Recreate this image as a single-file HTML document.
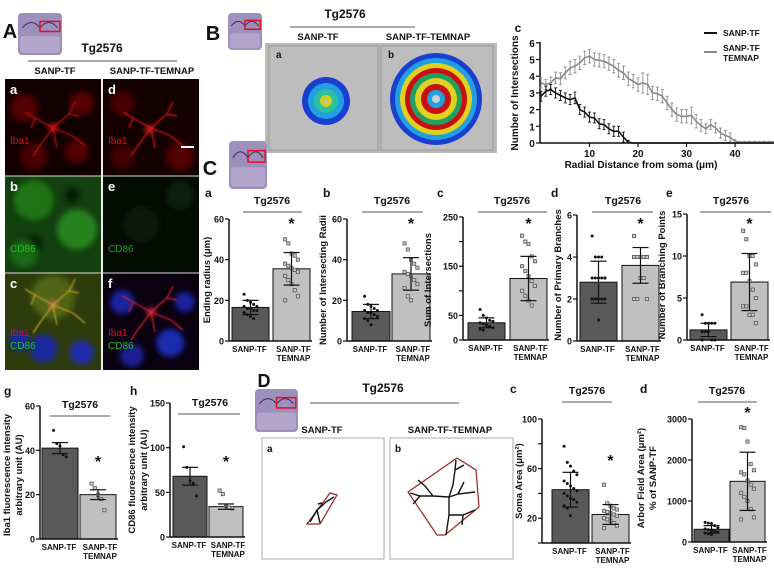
<!DOCTYPE html>
<html><head><meta charset="utf-8">
<style>
html,body{margin:0;padding:0;background:#fff;}
svg{display:block;font-family:"Liberation Sans",Arial,sans-serif;}
.t{font-weight:bold;fill:#111;}
</style></head>
<body>
<svg id="fig" width="774" height="568" viewBox="0 0 774 568" xmlns="http://www.w3.org/2000/svg">
<defs>
<filter id="bl" x="-50%" y="-50%" width="200%" height="200%"><feGaussianBlur stdDeviation="3"/></filter>
<filter id="bl2" x="-50%" y="-50%" width="200%" height="200%"><feGaussianBlur stdDeviation="0.8"/></filter>
<clipPath id="cpA"><rect x="5" y="79" width="194" height="291"/></clipPath>
</defs>
<g id="static"></g>
<g id="charts"></g>
</svg>
<script>
// ---------- DATA ----------
const groupLabels = ["SANP-TF", "SANP-TF", "TEMNAP"];
// Sholl line chart
const shollX = [0,1,2,3,4,5,6,7,8,9,10,11,12,13,14,15,16,17,18,19,20,21,22,23,24,25,26,27,28,29,30,31,32,33,34,35,36,37,38,39,40,41,42,43,44,45,46,47,48];
const shollTF = [2.8,3.1,3.2,3.0,2.85,2.7,2.6,2.7,2.0,1.85,1.55,1.5,1.15,1.1,0.85,0.7,0.7,0.35,0.05,0,0,0,0,0,0,0,0,0,0,0,0,0,0,0,0,0,0,0,0,0,0,0,0,0,0,0,0,0,0];
const shollTEM = [3.6,3.5,3.6,3.9,3.85,4.2,4.5,4.6,4.8,5.1,5.2,5.0,4.95,4.9,4.75,4.6,4.35,4.2,3.85,3.7,3.5,3.6,3.5,3.0,2.95,2.8,2.4,2.0,1.7,1.6,1.6,1.65,1.3,1.05,0.85,1.1,0.9,0.6,0.45,0.35,0.1,0.05,0.05,0.05,0.05,0.05,0.05,0.05,0.05];
const shollTFerr = [0.3,0.3,0.3,0.3,0.3,0.3,0.3,0.35,0.3,0.3,0.3,0.3,0.3,0.3,0.3,0.3,0.3,0.3,0.1,0,0,0,0,0,0,0,0,0,0,0,0,0,0,0,0,0,0,0,0,0,0,0,0,0,0,0,0,0,0];
const shollTEMerr = [0.3,0.3,0.35,0.35,0.35,0.35,0.4,0.4,0.4,0.4,0.4,0.4,0.4,0.4,0.4,0.4,0.4,0.4,0.4,0.4,0.4,0.6,0.6,0.4,0.4,0.4,0.4,0.4,0.4,0.4,0.4,0.5,0.4,0.35,0.3,0.3,0.3,0.3,0.3,0.25,0.1,0.05,0.05,0.05,0.05,0.05,0.05,0.05,0.05];
const shollXTicks = [10,20,30,40];
const shollYTicks = [0,1,2,3,4,5,6];
// C-a ending radius
const endMean = [16.5, 35.5], endSD = [3.5, 8];
const endPts1 = [23,20,19,18,17,17,16,16,15,15,14,13,12,11];
const endPts2 = [50,48,43,42,40,38,37,36,35,34,32,30,28,25,22,20];
const endTicks = [0,20,40,60];
// C-b intersecting radii
const radMean = [14.5, 33], radSD = [3.5, 8];
const radPts1 = [22,18,17,16,15,15,14,14,13,12,11,10,8];
const radPts2 = [48,45,40,38,36,34,33,32,30,28,26,22,20];
const radTicks = [0,20,40,60];
// C-c sum of intersections
const sumMean = [35, 125], sumSD = [10, 45];
const sumPts1 = [62,50,45,40,38,35,33,30,28,25,22,20];
const sumPts2 = [212,200,195,170,160,150,140,130,120,110,100,90,80,70];
const sumTicks = [0,50,100,150,200,250];
const sumTickLabels = ["0","50","","150","","250"];
// C-d primary branches
const priMean = [2.8, 3.6], priSD = [1, 0.85];
const priPts1 = [5,4,4,4,3,3,3,3,3,3,2,2,2,2,2,2,2,1];
const priPts2 = [5,4,4,4,4,4,4,4,4,4,4,4,3,3,2,2,2];
const priTicks = [0,2,4,6];
// C-e branching points
const brMean = [1.2, 6.9], brSD = [0.8, 3.4];
const brPts1 = [3,2,2,2,2,1,1,1,0,0,0];
const brPts2 = [13,12,10,10,9,8,8,7,6,5,4,4,3,3,2];
const brTicks = [0,5,10,15];
// g Iba1
const ibaMean = [41, 20], ibaErr = [2.5, 2.2];
const ibaPts1 = [49,43,42,38,37];
const ibaPts2 = [25,23,20,18,13];
const ibaTicks = [0,20,40,60];
// h CD86
const cdMean = [68, 34], cdErr = [10, 3];
const cdPts1 = [101,78,63,60,46];
const cdPts2 = [52,48,35,33,32];
const cdTicks = [0,50,100,150];
// D-c soma area
const somaMean = [43, 23], somaSD = [14, 8];
const somaPts1 = [78,65,62,58,55,50,48,46,44,42,40,38,36,35,33,30,28,22];
const somaPts2 = [47,32,30,28,27,26,25,24,23,22,20,19,18,16,14,12];
const somaTicks = [0,20,40,60,80,100];
const somaTickLabels = ["","20","","60","","100"];
// D-d arbor field area
const arbMean = [310, 1480], arbSD = [90, 710];
const arbPts1 = [480,460,450,400,350,320,300,280,260,240,220,200,180];
const arbPts2 = [2800,2780,2450,1900,1750,1700,1650,1500,1400,1300,1200,1100,1000,800,600,550];
const arbTicks = [0,1000,2000,3000];

// ---------- HELPERS ----------
const NS = "http://www.w3.org/2000/svg";
function mk(parent, tag, attrs, text){
  const e = document.createElementNS(NS, tag);
  for (const k in attrs) e.setAttribute(k, attrs[k]);
  if (text !== undefined) e.textContent = text;
  parent.appendChild(e);
  return e;
}
const S = document.getElementById("static");
const C = document.getElementById("charts");

function txt(p, x, y, s, size, name, extra){
  const a = {x:x, y:y, "font-size":size, class:"t", "text-anchor":"middle"};
  if (extra) for (const k in extra) a[k] = extra[k];
  const e = mk(p, "text", a, s);
  
  
  return e;
}
function line(p, x1, y1, x2, y2, col, w){
  return mk(p, "line", {x1:x1,y1:y1,x2:x2,y2:y2,stroke:col,"stroke-width":w});
}
function brain(p, x, y, w, h, name){
  const g = mk(p, "g", {});
  
  
  mk(g, "rect", {x:x, y:y, width:w, height:h, rx:4, fill:"#9f8fbd"});
  mk(g, "rect", {x:x+2, y:y+h*0.55, width:w-4, height:h*0.4, rx:3, fill:"#b3a6cc"});
  mk(g, "path", {d:`M${x+w*0.1} ${y+h*0.35} Q${x+w*0.3} ${y+h*0.1} ${x+w*0.5} ${y+h*0.35} Q${x+w*0.7} ${y+h*0.1} ${x+w*0.9} ${y+h*0.35}`, stroke:"#3a2d68", fill:"none", "stroke-width":1});
  mk(g, "rect", {x:x+w*0.5, y:y+h*0.2, width:w*0.45, height:h*0.24, fill:"none", stroke:"#e01020", "stroke-width":1.5});
}

// ---------- STATIC PANELS ----------
// Panel A
txt(S, 10, 38, "A", 20, "panel-a-label");
brain(S, 18, 13, 44, 42, "panel-a-brain-thumbnail");
txt(S, 102, 52, "Tg2576", 12, "panel-a-title");
line(S, 28, 61, 177, 61, "#555", 1);
txt(S, 55, 74, "SANP-TF", 9.5, "panel-a-col1-header");
txt(S, 152, 74, "SANP-TF-TEMNAP", 9.5, "panel-a-col2-header");
const imgs = mk(S, "g", {"clip-path":"url(#cpA)"});


const cells = [
  {x:5,y:79,bg:"#120000",blobs:[["#5a0000",20,30,14],["#600000",80,25,12],["#500000",30,80,14],["#5a0000",75,75,12],["#ff2020",50,50,4]],br:"#d01010",lab:"a"},
  {x:103,y:79,bg:"#150000",blobs:[["#500000",20,25,12],["#5a0000",80,80,14],["#4a0000",20,80,12],["#ff3030",48,52,4]],br:"#e01818",lab:"d"},
  {x:5,y:176,bg:"#12400e",blobs:[["#207a18",30,25,20],["#2a8a20",75,55,20],["#051505",30,70,8],["#051505",70,20,7],["#1d6d16",20,80,14]],br:null,lab:"b"},
  {x:103,y:176,bg:"#040c04",blobs:[["#0a1e0a",40,50,18],["#0c220c",80,20,14]],br:null,lab:"e"},
  {x:5,y:273,bg:"#2e3c0c",blobs:[["#556a18",50,25,22],["#1828b0",40,78,14],["#1a2ac0",80,82,12],["#1828b0",15,70,10],["#f07080",50,33,4]],br:"#c0a020",lab:"c"},
  {x:103,y:273,bg:"#0a0010",blobs:[["#1a28b0",20,30,12],["#1a30c0",70,72,14],["#1a20a0",30,85,12],["#1a28b0",85,30,10],["#ff4050",50,40,4]],br:"#e02030",lab:"f"}
];
cells.forEach((c, i) => {
  const g = mk(imgs, "g", {});
  
  
  mk(g, "rect", {x:c.x, y:c.y, width:96, height:97, fill:c.bg});
  c.blobs.forEach(b => mk(g, "circle", {cx:c.x+b[1]*0.96, cy:c.y+b[2]*0.97, r:b[3], fill:b[0], filter:"url(#bl)", opacity:0.9}));
  if (c.br) {
    const cx = c.x + 48, cy = c.y + (i===4?32:(i===5?39:49));
    mk(g, "path", {d:`M${cx} ${cy} l-18 -10 l-10 -6 M${cx} ${cy} l16 -14 l6 -12 M${cx} ${cy} l20 8 l12 10 M${cx} ${cy} l-12 16 l-8 12 M${cx} ${cy} l4 20 M${cx-18} ${cy-10} l-4 10 M${cx+16} ${cy-14} l10 2`,
      stroke:c.br, "stroke-width":1.2, fill:"none", filter:"url(#bl2)"});
  }
  mk(g, "text", {x:c.x+5, y:c.y+15, "font-size":13, "font-weight":"bold", fill:"#fff"}, c.lab);
});
line(S, 102, 79, 102, 370, "#ddd", 1);
line(S, 5, 176, 199, 176, "#ddd", 1);
line(S, 5, 273, 199, 273, "#ddd", 1);
[[10,144,"#e01010","Iba1"],[108,144,"#e01010","Iba1"],[10,252,"#20c020","CD86"],[108,252,"#20a020","CD86"],[10,336,"#e01010","Iba1"],[10,349,"#20c020","CD86"],[108,336,"#e01010","Iba1"],[108,349,"#20c020","CD86"]].forEach(l=>{
  const e = mk(S, "text", {x:l[0], y:l[1], "font-size":10, fill:l[2]}, l[3]);
  
  
});
line(S, 181, 147, 194, 147, "#fff", 2);

// Panel B
txt(S, 213, 40, "B", 20, "panel-b-label");
brain(S, 228, 13, 34, 37, "panel-b-brain-thumbnail");
txt(S, 345, 18, "Tg2576", 12, "panel-b-title");
line(S, 290, 27, 415, 27, "#555", 1);
txt(S, 318, 40, "SANP-TF", 9.5, "panel-b-col1-header");
txt(S, 428, 40, "SANP-TF-TEMNAP", 9.5, "panel-b-col2-header");
mk(S, "rect", {x:265, y:43, width:232, height:110, fill:"#b8b8b8"});
mk(S, "rect", {x:269, y:46, width:109, height:104, fill:"#bdbdbd", stroke:"#999"});
mk(S, "rect", {x:381, y:46, width:112, height:104, fill:"#bdbdbd", stroke:"#999"});
mk(S, "text", {x:276, y:58, "font-size":10, "font-weight":"bold", fill:"#111"}, "a");
mk(S, "text", {x:388, y:58, "font-size":10, "font-weight":"bold", fill:"#111"}, "b");
[["#1a3fd0",24],["#20a0e0",18],["#30c0a0",12],["#d0d020",6],["#c0c0c0",2]].forEach(r=>mk(S,"circle",{cx:326,cy:101,r:r[1],fill:r[0]}));
[["#1a3fd0",46],["#20a0e0",41],["#e0d020",36],["#c81010",31],["#20a060",26],["#e0d020",21],["#c81010",15],["#20a0e0",9],["#d0d0d0",4]].forEach(r=>mk(S,"circle",{cx:436,cy:99,r:r[1],fill:r[0]}));

// Panel C / D labels
txt(S, 210, 175, "C", 20, "panel-c-label");
brain(S, 229, 141, 38, 48, "panel-c-brain-thumbnail");
txt(S, 264, 387, "D", 18, "panel-d-label");
brain(S, 255, 389, 43, 43, "panel-d-brain-thumbnail");
txt(S, 383, 392, "Tg2576", 12, "panel-d-title");
line(S, 310, 403, 459, 403, "#555", 1);
txt(S, 322, 433, "SANP-TF", 9.5, "panel-d-col1-header");
txt(S, 450, 433, "SANP-TF-TEMNAP", 9.5, "panel-d-col2-header");
const dA = mk(S, "rect", {x:262, y:438, width:122, height:121, fill:"#fff", stroke:"#aaa"});
 
const dB = mk(S, "rect", {x:390, y:438, width:123, height:121, fill:"#fff", stroke:"#aaa"});
 
mk(S, "text", {x:267, y:452, "font-size":10, "font-weight":"bold", fill:"#111"}, "a");
mk(S, "text", {x:395, y:452, "font-size":10, "font-weight":"bold", fill:"#111"}, "b");
mk(S, "polygon", {points:"307,524 330,493 337,495 320,524", fill:"none", stroke:"#a02020", "stroke-width":1.2});
mk(S, "path", {d:"M310,522 L317,510 L326,502 L334,497 M317,510 L320,523 M322,503 L318,504", stroke:"#111", fill:"none", "stroke-width":1.5});
mk(S, "polygon", {points:"408,492 457,458 476,470 479,507 445,535 437,535", fill:"none", stroke:"#a02020", "stroke-width":1.2});
mk(S, "path", {d:"M410,493 L420,496 L433,496 L449,497 L458,494 L475,492 M449,497 L449,515 L446,535 M449,515 L463,515 L475,510 M449,497 L453,485 L455,470 L456,460 M433,496 L425,486 L418,480 M420,496 L413,504 M458,494 L464,482 M463,515 L462,525 M455,470 L464,465",
  stroke:"#111", fill:"none", "stroke-width":1.4});

// ---------- BAR CHART FUNCTION ----------
function barChart(o){
  const g = mk(C, "g", {});
  
  
  const ymax = o.ticks[o.ticks.length-1];
  const yS = v => o.y0 - (v / ymax) * (o.y0 - o.yTop);
  txt(g, o.lx, o.ly, o.letter, 12, o.name + "-letter", {"text-anchor":"start"});
  txt(g, o.tgx, o.tgy, "Tg2576", 10.5, o.name + "-group-title");
  line(g, o.tgx1, o.tgy + 8, o.tgx2, o.tgy + 8, "#555", 1);
  const cols = ["#595959", "#c0c0c0"];
  o.means.forEach((m, i) => {
    const x = o.bx[i];
    const r = mk(g, "rect", {x:x, y:yS(m), width:o.bw, height:o.y0 - yS(m), fill:cols[i], stroke:"#111", "stroke-width":1});
    
    
  });
  [o.pts1, o.pts2].forEach((pts, i) => {
    const cx = o.bx[i] + o.bw/2;
    pts.forEach((v, j) => {
      const off = ((j % 5) - 2) * 3.2;
      if (i === 0) {
        const p = mk(g, "circle", {cx:cx + off, cy:yS(v), r:1.5, fill:"#111"});
        
        
      } else {
        const p = mk(g, "rect", {x:cx + off - 1.6, y:yS(v) - 1.6, width:3.2, height:3.2, fill:"#ccc", stroke:"#555", "stroke-width":0.8});
        
        
      }
    });
  });
  o.means.forEach((m, i) => {
    const cx = o.bx[i] + o.bw/2;
    const e = mk(g, "g", {});
    
    
    line(e, cx, yS(m + o.err[i]), cx, yS(Math.max(0, m - o.err[i])), "#111", 1.2);
    line(e, cx - 8, yS(m + o.err[i]), cx + 8, yS(m + o.err[i]), "#111", 1.2);
    line(e, cx - 8, yS(Math.max(0, m - o.err[i])), cx + 8, yS(Math.max(0, m - o.err[i])), "#111", 1.2);
  });
  txt(g, o.bx[1] + o.bw/2, o.starY, "*", 16, o.name + "-significance-star");
  const ax = mk(g, "g", {});
  
  
  line(ax, o.ax, o.yTop, o.ax, o.y0, "#111", 1.5);
  line(g, o.ax, o.y0, o.bx[1] + o.bw + 2, o.y0, "#111", 1.5);
  o.ticks.forEach((t, k) => {
    line(ax, o.ax - 4, yS(t), o.ax, yS(t), "#111", 1.2);
    const lab = o.tickLabels ? o.tickLabels[k] : String(t);
    if (lab !== "") txt(ax, o.ax - 5, yS(t) + 3.5, lab, 9, o.name + '-y-tick-label', {"text-anchor":"end"});
  });
  o.ytitle.forEach((s, k) => {
    const tx = o.ytx + k * 12;
    txt(g, tx, o.yty, s, 9.5, o.name + '-y-axis-title', {transform:`rotate(-90 ${tx} ${o.yty})`});
  });
  const c1 = o.bx[0] + o.bw/2, c2 = o.bx[1] + o.bw/2;
  txt(g, c1 - 1, o.y0 + 11, groupLabels[0], 8, o.name + '-x-label-sanp-tf');
  txt(g, c2 + 2, o.y0 + 11, groupLabels[1], 8, o.name + '-x-label-temnap');
  txt(g, c2 + 2, o.y0 + 20, groupLabels[2], 8, o.name + '-x-label-temnap-2');
}

// Row C
barChart({name:"ending-radius-chart", letter:"a", lx:205, ly:197, tgx:272, tgy:204, tgx1:243, tgx2:302,
  ax:229, y0:341, yTop:219, bx:[232,273], bw:37, ticks:endTicks, means:endMean, err:endSD, pts1:endPts1, pts2:endPts2,
  starY:229, ytitle:["Ending radius (μm)"], ytx:210, yty:280});
barChart({name:"intersecting-radii-chart", letter:"b", lx:323, ly:197, tgx:392, tgy:204, tgx1:362, tgx2:423,
  ax:347, y0:341, yTop:219, bx:[352,392], bw:38, ticks:radTicks, means:radMean, err:radSD, pts1:radPts1, pts2:radPts2,
  starY:229, ytitle:["Number of Intersecting Radii"], ytx:326, yty:280});
barChart({name:"sum-intersections-chart", letter:"c", lx:437, ly:197, tgx:512, tgy:204, tgx1:478, tgx2:547,
  ax:463, y0:340, yTop:217, bx:[468,510], bw:37, ticks:sumTicks, tickLabels:sumTickLabels, means:sumMean, err:sumSD, pts1:sumPts1, pts2:sumPts2,
  starY:229, ytitle:["Sum of Intersections"], ytx:431, yty:280});
barChart({name:"primary-branches-chart", letter:"d", lx:551, ly:197, tgx:623, tgy:204, tgx1:592, tgx2:653,
  ax:577, y0:341, yTop:215, bx:[580,622], bw:37, ticks:priTicks, means:priMean, err:priSD, pts1:priPts1, pts2:priPts2,
  starY:229, ytitle:["Number of Primary Branches"], ytx:561, yty:275});
barChart({name:"branching-points-chart", letter:"e", lx:666, ly:197, tgx:731, tgy:204, tgx1:700, tgx2:771,
  ax:687, y0:340, yTop:214, bx:[690,731], bw:37, ticks:brTicks, means:brMean, err:brSD, pts1:brPts1, pts2:brPts2,
  starY:229, ytitle:["Number of Branching Points"], ytx:665, yty:275});
// Bottom row
barChart({name:"iba1-intensity-chart", letter:"g", lx:4, ly:395, tgx:80, tgy:408, tgx1:50, tgx2:110,
  ax:40, y0:539, yTop:406, bx:[42,80], bw:36, ticks:ibaTicks, means:ibaMean, err:ibaErr, pts1:ibaPts1, pts2:ibaPts2,
  starY:467, ytitle:["Iba1 fluorescence intensity","arbitrary unit (AU)"], ytx:10, yty:475});
barChart({name:"cd86-intensity-chart", letter:"h", lx:130, ly:395, tgx:210, tgy:406, tgx1:178, tgx2:240,
  ax:170, y0:537, yTop:403, bx:[173,209], bw:34, ticks:cdTicks, means:cdMean, err:cdErr, pts1:cdPts1, pts2:cdPts2,
  starY:467, ytitle:["CD86 fluorescence intensity","arbitrary unit (AU)"], ytx:135, yty:470});
barChart({name:"soma-area-chart", letter:"c", lx:510, ly:393, tgx:587, tgy:394, tgx1:562, tgx2:612,
  ax:542, y0:543, yTop:419, bx:[552,592], bw:37, ticks:somaTicks, tickLabels:somaTickLabels, means:somaMean, err:somaSD, pts1:somaPts1, pts2:somaPts2,
  starY:466, ytitle:["Soma Area (μm²)"], ytx:522, yty:481});
barChart({name:"arbor-field-chart", letter:"d", lx:640, ly:393, tgx:727, tgy:394, tgx1:698, tgx2:757,
  ax:692, y0:542, yTop:419, bx:[694,730], bw:35, ticks:arbTicks, means:arbMean, err:arbSD, pts1:arbPts1, pts2:arbPts2,
  starY:418, ytitle:["Arbor Field Area (μm²)","% of SANP-TF"], ytx:644, yty:478});

// ---------- SHOLL LINE CHART ----------
(function(){
  const g = mk(C, "g", {});
  
  
  const x0 = 541, pxX = 4.85, y0 = 143, pxY = 16.7;
  const xS = v => x0 + v * pxX;
  const yS = v => y0 - v * pxY;
  txt(g, 518, 32, "c", 12, "sholl-chart-letter");
  line(g, 540, 42, 540, 143, "#111", 1.5);
  line(g, 540, 143, 774, 143, "#111", 1.5);
  shollYTicks.forEach(t => {
    line(g, 536, yS(t), 540, yS(t), "#111", 1.2);
    txt(g, 532, yS(t) + 4, String(t), 10, "sholl-y-tick-label");
  });
  shollXTicks.forEach(t => {
    line(g, xS(t), 143, xS(t), 147, "#111", 1.2);
    txt(g, xS(t), 157, String(t), 10, "sholl-x-tick-label");
  });
  txt(g, 641, 168, "Radial Distance from soma (μm)", 10, "sholl-x-axis-title");
  txt(g, 518, 93, "Number of Intersections", 10, "sholl-y-axis-title", {transform:"rotate(-90 518 93)"});
  function series(vals, errs, col, name){
    const sg = mk(g, "g", {});
    
    
    vals.forEach((v, i) => {
      if (errs[i] > 0) {
        const x = xS(shollX[i]);
        line(sg, x, yS(v + errs[i]), x, yS(Math.max(0, v - errs[i])), col, 0.9);
        line(sg, x - 1.5, yS(v + errs[i]), x + 1.5, yS(v + errs[i]), col, 0.9);
        line(sg, x - 1.5, yS(Math.max(0, v - errs[i])), x + 1.5, yS(Math.max(0, v - errs[i])), col, 0.9);
      }
    });
    const d = vals.map((v, i) => (i ? "L" : "M") + xS(shollX[i]).toFixed(1) + " " + yS(v).toFixed(1)).join(" ");
    mk(sg, "path", {d:d, stroke:col, fill:"none", "stroke-width":1.6});
  }
  series(shollTEM, shollTEMerr, "#8a8a8a", "sholl-series-temnap");
  series(shollTF, shollTFerr, "#111", "sholl-series-sanp-tf");
  const lg = mk(g, "g", {});
  
  
  line(lg, 704, 33, 717, 33, "#111", 2);
  txt(lg, 723, 36, "SANP-TF", 8.5, "legend-entry-sanp-tf", {"text-anchor":"start"});
  line(lg, 704, 52, 717, 52, "#8a8a8a", 2);
  txt(lg, 723, 51, "SANP-TF", 8.5, "legend-entry-temnap", {"text-anchor":"start"});
  txt(lg, 723, 61, "TEMNAP", 8.5, "legend-entry-temnap-2", {"text-anchor":"start"});
})();
</script>
</body></html>
